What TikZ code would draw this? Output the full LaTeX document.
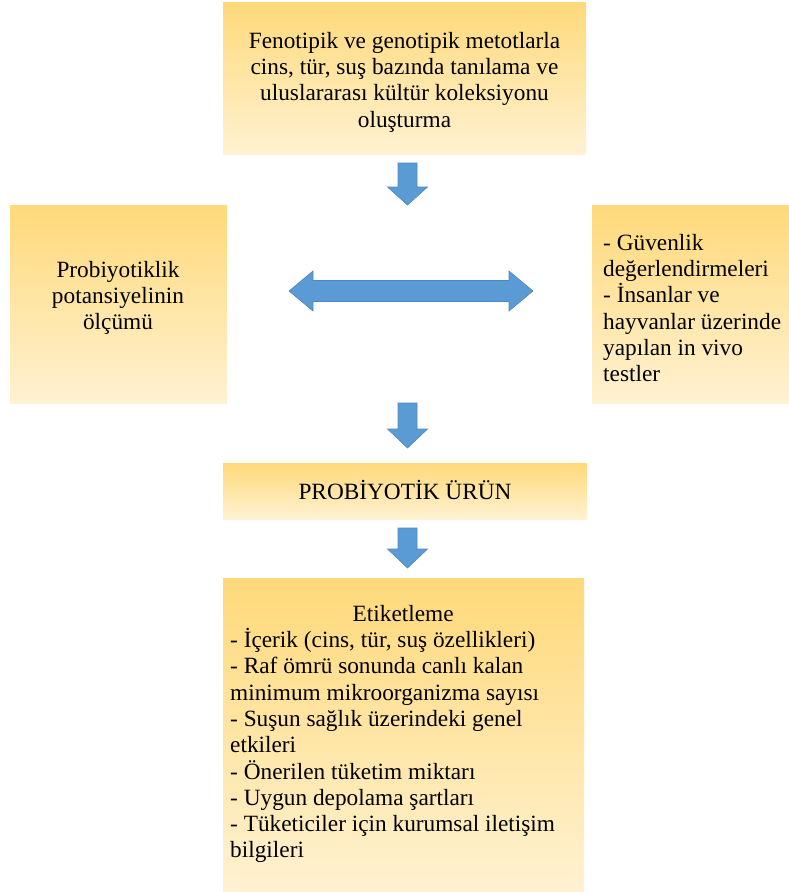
\documentclass[tikz,border=0pt]{standalone}
\usepackage{fontspec}
\setmainfont{Liberation Serif}
\usetikzlibrary{shadings}
\definecolor{goldtop}{RGB}{255,217,122}
\definecolor{goldbot}{RGB}{255,242,210}
\definecolor{arrfill}{RGB}{91,155,213}
\definecolor{arrline}{RGB}{78,136,190}
\tikzset{
  box/.style={rectangle, inner sep=0pt, top color=goldtop, bottom color=goldbot, draw=none, anchor=north west},
  txt/.style={inner sep=0pt, font=\fontsize{23.3}{26.3}\selectfont},
  blockarr/.style={fill=arrfill, draw=arrline, line width=0.6pt, line join=miter}
}
\begin{document}
\begin{tikzpicture}[x=1pt,y=-1pt]
\useasboundingbox (0,0) rectangle (789,892);
% boxes
\node[box, minimum width=363pt, minimum height=152pt] (top) at (223,2) {};
\node[box, minimum width=217pt, minimum height=198pt] (left) at (10,205) {};
\node[box, minimum width=197pt, minimum height=198pt] (right) at (592,205) {};
\node[box, minimum width=364pt, minimum height=56pt] (prod) at (223,463) {};
\node[box, minimum width=361pt, minimum height=314pt] (label) at (223,578) {};
% texts
\node[txt, align=center] (toptxt) at (404.5,82) {Fenotipik ve genotipik metotlarla\\cins, tür, suş bazında tanılama ve\\uluslararası kültür koleksiyonu\\oluşturma};
\node[txt, align=center] (lefttxt) at (118,298) {Probiyotiklik\\potansiyelinin\\ölçümü};
\node[txt, align=left, anchor=west] (righttxt) at (603,308) {- Güvenlik\\değerlendirmeleri\\- İnsanlar ve\\hayvanlar üzerinde\\yapılan in vivo\\testler};
\node[txt, align=center] (prodtxt) at (405,490) {PROBİYOTİK ÜRÜN};
\node[txt, align=left, anchor=west] (labeltxt) at (230,734) {\makebox[346pt]{Etiketleme}\\- İçerik (cins, tür, suş özellikleri)\\- Raf ömrü sonunda canlı kalan\\minimum mikroorganizma sayısı\\- Suşun sağlık üzerindeki genel\\etkileri\\- Önerilen tüketim miktarı\\- Uygun depolama şartları\\- Tüketiciler için kurumsal iletişim\\bilgileri};
% arrows
\begin{scope}[shift={(407.5,163)}]
\draw[blockarr] (-9.5,0) -- (9.5,0) -- (9.5,24) -- (20,24) -- (0,42) -- (-20,24) -- (-9.5,24) -- cycle;
\end{scope}
\begin{scope}[shift={(407.5,403)}]
\draw[blockarr] (-9.5,0) -- (9.5,0) -- (9.5,26) -- (20,26) -- (0,45) -- (-20,26) -- (-9.5,26) -- cycle;
\end{scope}
\begin{scope}[shift={(407.5,528)}]
\draw[blockarr] (-9.5,0) -- (9.5,0) -- (9.5,21) -- (20,21) -- (0,40) -- (-20,21) -- (-9.5,21) -- cycle;
\end{scope}
\begin{scope}[shift={(289,291)}]
\draw[blockarr] (0,0) -- (24,-20) -- (24,-10.5) -- (220,-10.5) -- (220,-20) -- (244,0) -- (220,20) -- (220,10.5) -- (24,10.5) -- (24,20) -- cycle;
\end{scope}
\end{tikzpicture}
\end{document}
